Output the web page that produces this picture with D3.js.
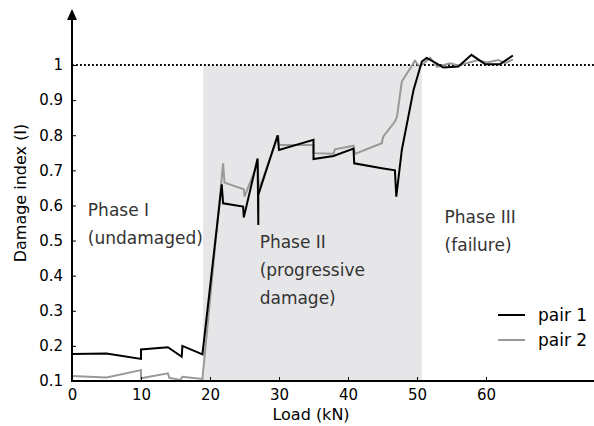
<!DOCTYPE html>
<html><head><meta charset="utf-8">
<script src="https://cdn.jsdelivr.net/npm/d3@7"></script>
<style>body{margin:0;background:#fff}</style>
</head><body>
<svg id="c" width="594" height="426"></svg>
<script>
const xTicks = [0,10,20,30,40,50,60];
const yTicks = [0.1,0.2,0.3,0.4,0.5,0.6,0.7,0.8,0.9,1];
const phase2Range = [19, 50.7];
const pair1X = [0,5,10,10,13.9,15.9,16,18.9,21.7,21.9,24.8,24.9,26.9,27,27,29.8,30,35,35,37.9,40.8,40.9,44.9,46.8,47,47.8,49.5,50.7,51.4,52.8,53.8,56,57.9,59.9,62,63.9];
const pair1Y = [0.177,0.178,0.163,0.19,0.196,0.169,0.2,0.176,0.66,0.606,0.597,0.566,0.734,0.544,0.63,0.80,0.758,0.787,0.732,0.741,0.762,0.72,0.706,0.70,0.625,0.758,0.929,1.01,1.02,1.005,0.993,0.996,1.029,1.002,1.002,1.027];
const pair2X = [0,5,10,10,13.9,14.1,15.7,16,18.9,21.9,22.1,24.9,25,26.9,27.1,29.9,30,35,35,37.9,38.1,40.8,41,44.9,45.1,46.8,47.1,47.8,49.7,50.4,51.9,52.9,54.8,56,58.9,60.1,61.8,62.8,63.9];
const pair2Y = [0.114,0.11,0.131,0.108,0.122,0.109,0.103,0.112,0.106,0.72,0.665,0.646,0.625,0.72,0.645,0.80,0.772,0.772,0.749,0.747,0.76,0.77,0.747,0.777,0.796,0.839,0.853,0.953,1.012,0.995,1.021,0.995,1.005,0.999,1.014,1.007,1.014,1.005,1.016];
const phaseLabels = [
  {x:2.3, y:0.57, lines:["Phase I","(undamaged)"]},
  {x:27.2, y:0.48, lines:["Phase II","(progressive","damage)"]},
  {x:54, y:0.55, lines:["Phase III","(failure)"]}
];
const legendItems = [{name:"pair 1", color:"#000"},{name:"pair 2", color:"#999"}];

const svg = d3.select("#c");
const x = d3.scaleLinear().domain([0,60]).range([72,486]);
const y = d3.scaleLinear().domain([0.1,1]).range([381,65]);

svg.append("rect")
  .attr("x", x(phase2Range[0])).attr("y", y(1))
  .attr("width", x(phase2Range[1]) - x(phase2Range[0]))
  .attr("height", y(0.1) - y(1))
  .attr("fill", "#e6e6e8");

svg.append("line")
  .attr("x1", x(0)).attr("x2", 594).attr("y1", y(1)).attr("y2", y(1))
  .attr("stroke", "#000").attr("stroke-width", 1.8).attr("stroke-dasharray", "1.8,2.2");

const line = d3.line().x(d=>x(d[0])).y(d=>y(d[1]));
svg.append("path").datum(pair2X.map((v,i)=>[v,pair2Y[i]]))
  .attr("d", line).attr("fill","none").attr("stroke","#999").attr("stroke-width",2);
svg.append("path").datum(pair1X.map((v,i)=>[v,pair1Y[i]]))
  .attr("d", line).attr("fill","none").attr("stroke","#000").attr("stroke-width",2);

const xAxis = d3.axisBottom(x).tickValues(xTicks).tickSizeInner(-4).tickSizeOuter(0).tickPadding(8).tickFormat(d3.format("d"));
const gx = svg.append("g").attr("transform", `translate(0,${y(0.1)})`).call(xAxis);
gx.select(".domain").remove();
gx.selectAll("text").attr("font-family","DejaVu Sans").attr("font-size",15).attr("fill","#000");
svg.append("line").attr("x1", x(0)-1).attr("x2", 594).attr("y1", y(0.1)).attr("y2", y(0.1))
  .attr("stroke","#000").attr("stroke-width",2);

const yAxis = d3.axisLeft(y).tickValues(yTicks).tickSizeInner(-4).tickSizeOuter(0).tickPadding(9).tickFormat(d=>d===1?"1":d3.format(".1f")(d));
const gy = svg.append("g").attr("transform", `translate(${x(0)},0)`).call(yAxis);
gy.select(".domain").remove();
gy.selectAll("text").attr("font-family","DejaVu Sans").attr("font-size",15).attr("fill","#000");
svg.append("line").attr("x1", x(0)).attr("x2", x(0)).attr("y1", y(0.1)+1).attr("y2", 18)
  .attr("stroke","#000").attr("stroke-width",2);
svg.append("path").attr("d", `M${x(0)-5},${20} L${x(0)},${9} L${x(0)+5},${20} Z`).attr("fill","#000");

svg.append("text").attr("x", 311).attr("y", 420).attr("text-anchor","middle")
  .attr("font-family","DejaVu Sans").attr("font-size",16).text("Load (kN)");
svg.append("text").attr("transform","translate(26,193) rotate(-90)").attr("text-anchor","middle")
  .attr("font-family","DejaVu Sans").attr("font-size",16).text("Damage index (I)");

phaseLabels.forEach(p=>{
  const t = svg.append("text").attr("font-family","DejaVu Sans").attr("font-size",17).attr("fill","#333");
  p.lines.forEach((l,i)=>{
    t.append("tspan").attr("x", x(p.x)).attr("y", y(p.y) + i*28).text(l);
  });
});

legendItems.forEach((d,i)=>{
  const yy = 315 + i*25;
  svg.append("line").attr("x1",498).attr("x2",525).attr("y1",yy).attr("y2",yy)
    .attr("stroke",d.color).attr("stroke-width",2);
  svg.append("text").attr("x",538).attr("y",yy+6).attr("font-family","DejaVu Sans").attr("font-size",17).text(d.name);
});
</script>
</body></html>
